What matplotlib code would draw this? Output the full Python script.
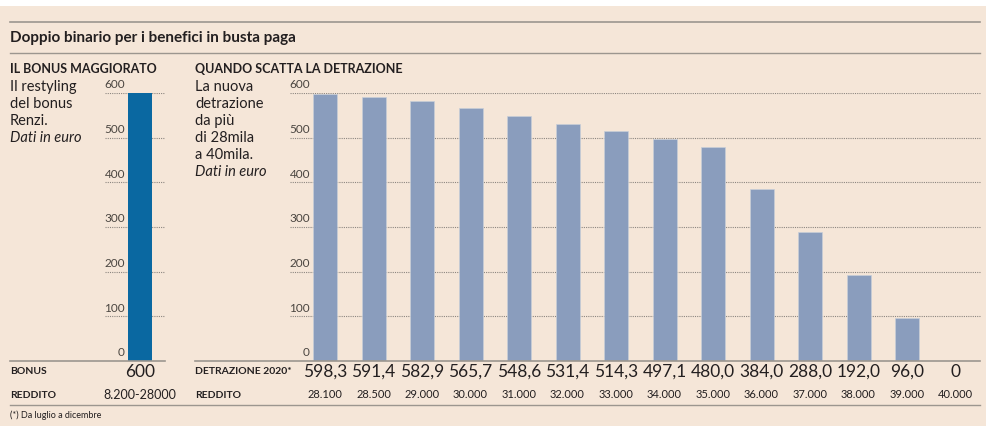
"""Doppio binario per i benefici in busta paga: bonus vs detrazione 2020."""

import matplotlib.pyplot as plt
from matplotlib.lines import Line2D
from matplotlib.patches import Rectangle

# data
bonus_value = [600]
bonus_label = '600'
bonus_income = '8.200-28000'

detrazione = [598.3, 591.4, 582.9, 565.7, 548.6, 531.4, 514.3,
              497.1, 480.0, 384.0, 288.0, 192.0, 96.0, 0]
detrazione_labels = ['598,3', '591,4', '582,9', '565,7', '548,6', '531,4', '514,3',
                     '497,1', '480,0', '384,0', '288,0', '192,0', '96,0', '0']
redditi = ['28.100', '28.500', '29.000', '30.000', '31.000', '32.000', '33.000',
           '34.000', '35.000', '36.000', '37.000', '38.000', '39.000', '40.000']
y_ticks = [0, 100, 200, 300, 400, 500, 600]

BG = '#f5e6d8'
DARK_BLUE = '#0a68a1'
GREY_BLUE = '#8a9dbd'
RULE = '#9c968f'
TXT = '#231f20'
TICK = '#4a4540'

W, H = 986, 426
plt.rcParams['font.family'] = ['Lato', 'DejaVu Sans']

fig = plt.figure(figsize=(W / 100, H / 100), dpi=100, facecolor='white')


def fx(px):
    return px / W


def fy(py):
    return 1 - py / H


def hline(y, x0, x1, lw=1.0, color=RULE):
    fig.add_artist(Line2D([fx(x0), fx(x1)], [fy(y), fy(y)], color=color, lw=lw))


def txt(x, y, s, **kw):
    kw.setdefault('color', TXT)
    kw.setdefault('va', 'center')
    fig.text(fx(x), fy(y), s, **kw)


fig.add_artist(Rectangle((0, 0), 1, fy(6), transform=fig.transFigure,
                         facecolor=BG, edgecolor='none', zorder=-10))

# header
hline(22, 10, 980, lw=1.2)
txt(10, 38, 'Doppio binario per i benefici in busta paga', fontsize=11, fontweight='bold')
hline(53, 10, 980, lw=1.0)
txt(10, 69, 'IL BONUS MAGGIORATO', fontsize=9, fontweight='bold')
txt(195, 69, 'QUANDO SCATTA LA DETRAZIONE', fontsize=9, fontweight='bold')

left_lines = ['Il restyling', 'del bonus', 'Renzi.']
for i, s in enumerate(left_lines):
    txt(10, 87 + 17 * i, s, fontsize=10.5)
txt(10, 87 + 17 * 3, 'Dati in euro', fontsize=10.5, style='italic')

right_lines = ['La nuova', 'detrazione', 'da più', 'di 28mila', 'a 40mila.']
for i, s in enumerate(right_lines):
    txt(195, 87 + 17 * i, s, fontsize=10.5)
txt(195, 87 + 17 * 5, 'Dati in euro', fontsize=10.5, style='italic')


def setup_axes(ax, tick_x):
    ax.set_facecolor('none')
    ax.set_ylim(0, 600)
    for sp in ax.spines.values():
        sp.set_visible(False)
    ax.set_xticks([])
    ax.set_yticks([])
    for v in y_ticks:
        if v > 0:
            ax.axhline(v, color='#8c8680', lw=0.8, ls=(0, (1, 1)), zorder=0)
        ax.text(tick_x, v + 6, str(v), ha='right', va='bottom',
                fontsize=8.5, color=TICK)


# left chart: axes spans px 105..165, baseline y 361, top 93
axl = fig.add_axes([fx(105), fy(361), fx(165) - fx(105), fy(93) - fy(361)])
setup_axes(axl, -0.25)
axl.set_xlim(-35 / 60, 25 / 60)
axl.bar([0], bonus_value, width=24 / 60, color=DARK_BLUE, zorder=2)

# right chart: bar centres at 325 + 48.5*i
step = 48.5
axr = fig.add_axes([fx(290), fy(361), fx(981) - fx(290), fy(93) - fy(361)])
setup_axes(axr, -0.31)
axr.set_xlim((290 - 325) / step, (981 - 325) / step)
xs = list(range(len(detrazione)))
axr.bar(xs, detrazione, width=24 / step, color=GREY_BLUE,
        edgecolor='#c9cfd8', linewidth=0.5, zorder=2)

# baselines
hline(361, 10, 165, lw=1.2)
hline(361, 195, 980, lw=1.2)

# bottom rows
txt(10, 372, 'BONUS', fontsize=7.5, fontweight='bold')
txt(10, 395, 'REDDITO', fontsize=7.5, fontweight='bold')
txt(140, 372, bonus_label, fontsize=12.5, ha='center')
txt(140, 395, bonus_income, fontsize=9, ha='center')

txt(195, 372, 'DETRAZIONE 2020*', fontsize=7.5, fontweight='bold')
txt(195, 395, 'REDDITO', fontsize=7.5, fontweight='bold')
for i, (lab, red) in enumerate(zip(detrazione_labels, redditi)):
    xc = 325 + step * i
    txt(xc, 372, lab, fontsize=12.5, ha='center')
    txt(xc, 395, red, fontsize=8, ha='center')

hline(405, 10, 980, lw=1.0)
txt(10, 415, '(*) Da luglio a dicembre', fontsize=6.5)

fig.savefig('out.png', dpi=100, facecolor='white')
